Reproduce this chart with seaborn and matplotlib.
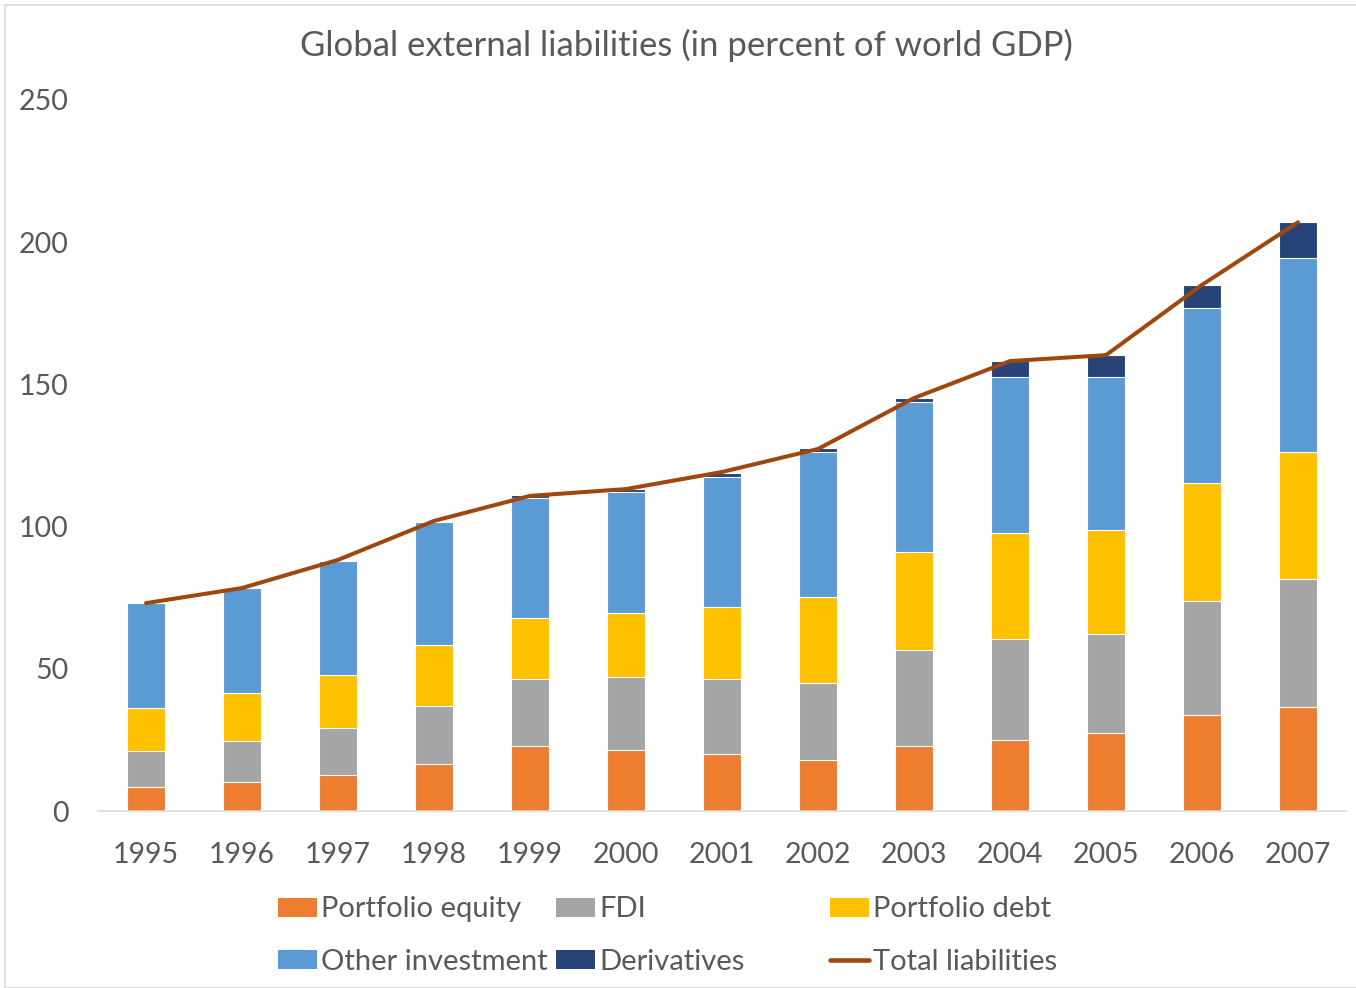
import numpy as np
import pandas as pd
import seaborn as sns
import matplotlib
matplotlib.use("Agg")
import matplotlib.pyplot as plt
from matplotlib.patches import Patch, Rectangle
from matplotlib.lines import Line2D

years = ["1995", "1996", "1997", "1998", "1999", "2000", "2001",
         "2002", "2003", "2004", "2005", "2006", "2007"]
portfolio_equity = [8.4, 10.2, 12.7, 16.5, 22.9, 21.4, 20.0, 17.9, 22.9, 25.0, 27.4, 33.8, 36.6]
fdi = [12.7, 14.4, 16.5, 20.4, 23.5, 25.7, 26.4, 27.1, 33.7, 35.5, 34.8, 40.0, 45.0]
portfolio_debt = [15.1, 16.9, 18.6, 21.5, 21.5, 22.5, 25.3, 30.2, 34.5, 37.2, 36.6, 41.5, 44.6]
other_investment = [36.9, 36.9, 40.1, 43.2, 42.2, 42.6, 45.7, 51.0, 52.7, 54.9, 53.8, 61.6, 68.2]
derivatives = [0.0, 0.0, 0.0, 0.4, 0.9, 1.0, 1.4, 1.4, 1.4, 5.6, 7.7, 8.0, 12.7]
total_liabilities = [73.1, 78.4, 88.3, 102.0, 110.8, 113.2, 119.2, 127.3, 145.2, 158.2, 160.3, 185.0, 207.0]

series_names = ["Portfolio equity", "FDI", "Portfolio debt", "Other investment", "Derivatives"]
series_vals = [portfolio_equity, fdi, portfolio_debt, other_investment, derivatives]
colors = ["#ED7D31", "#A5A5A5", "#FFC000", "#5B9BD5", "#264478"]
line_color = "#9E480E"
text_color = "#595959"

sns.set_theme(style="white")
plt.rcParams["font.family"] = ["Lato", "DejaVu Sans"]

W, H = 1356, 988
fig = plt.figure(figsize=(W / 100, H / 100), dpi=100)
ax = fig.add_axes([98 / W, (H - 811) / H, (1346 - 98) / W, (811 - 100) / H])

cum = np.cumsum(np.array(series_vals), axis=0)
# draw cumulative stacks from top layer down so each lower layer overlays
for i in range(len(series_names) - 1, -1, -1):
    df = pd.DataFrame({"year": years, "value": cum[i]})
    sns.barplot(data=df, x="year", y="value", color=colors[i], saturation=1,
                width=0.4, edgecolor="white", linewidth=0.8, ax=ax, errorbar=None)

sns.lineplot(x=np.arange(len(years)), y=total_liabilities, color=line_color,
             linewidth=2.9, ax=ax, solid_capstyle="round")

ax.set_xlim(-0.5, len(years) - 0.5)
ax.set_ylim(0, 250)
ax.set_yticks(np.arange(0, 251, 50))
ax.set_xticks(np.arange(len(years)))
ax.set_xticklabels(years)
ax.set_xlabel("")
ax.set_ylabel("")
ax.tick_params(axis="both", length=0, labelsize=20.5, labelcolor=text_color)
ax.tick_params(axis="y", pad=21)
ax.tick_params(axis="x", pad=22)
for s in ["top", "right", "left"]:
    ax.spines[s].set_visible(False)
ax.spines["bottom"].set_color("#D9D9D9")
ax.spines["bottom"].set_linewidth(1.2)
ax.grid(False)

fig.text(686 / W, 1 - 45 / H, "Global external liabilities (in percent of world GDP)",
         ha="center", va="center", fontsize=25, color=text_color)

handles = [Patch(facecolor=c, edgecolor="none") for c in colors]
handles.append(Line2D([], [], color=line_color, linewidth=3.3, solid_capstyle="round"))
labels = series_names + ["Total liabilities"]
groups = [([0, 3], 278), ([1, 4], 556), ([2, 5], 830)]
for idx, xpx in groups:
    leg = fig.legend([handles[j] for j in idx], [labels[j] for j in idx],
                     loc="center left", bbox_to_anchor=(xpx / W, 1 - 935.5 / H),
                     frameon=False, fontsize=21, labelcolor=text_color,
                     borderpad=0, borderaxespad=0, handlelength=1.34,
                     handleheight=0.62, handletextpad=0.14, labelspacing=0.9)

fig.patches.append(Rectangle((5 / W, 0), 1.2, 1 - 5 / H, transform=fig.transFigure,
                             fill=False, edgecolor="#D9D9D9", linewidth=1.2))

fig.savefig("out.png", dpi=100, facecolor="white")
